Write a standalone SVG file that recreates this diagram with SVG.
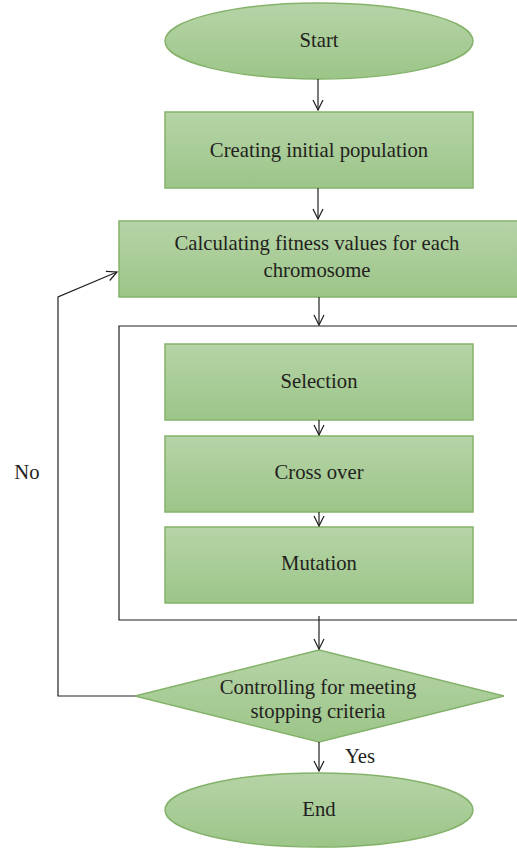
<svg xmlns="http://www.w3.org/2000/svg" width="517" height="848" viewBox="0 0 517 848">
<style>
.n{fill:url(#g);stroke:#84b26a;stroke-width:1.5}
.t{font-family:"Liberation Serif",serif;font-size:20.7px;fill:#231f20;text-anchor:middle}
.c{fill:none;stroke:#231f20;stroke-width:1.2}
</style>
<defs>
<linearGradient id="g" x1="0" y1="0" x2="0" y2="1">
<stop offset="0" stop-color="#b6d4a7"/>
<stop offset="1" stop-color="#9cc588"/>
</linearGradient>
<marker id="a" viewBox="0 0 12 12" refX="11" refY="6" markerWidth="12" markerHeight="12" markerUnits="userSpaceOnUse" orient="auto">
<path d="M1,1 L11,6 L1,11" fill="none" stroke="#231f20" stroke-width="1.2"/>
</marker>
</defs>
<rect x="0" y="0" width="517" height="848" fill="#fff"/>
<g id="container"><path class="c" d="M520,326 H119 V620 H520"/></g>
<g id="start"><ellipse class="n" cx="319" cy="41" rx="154" ry="38"/><text class="t" x="319" y="47">Start</text></g>
<g id="init"><rect class="n" x="165" y="112" width="308" height="76"/><text class="t" x="319" y="157">Creating initial population</text></g>
<g id="fitness"><rect class="n" x="119" y="221" width="400" height="76"/><text class="t" x="317" y="250">Calculating fitness values for each</text><text class="t" x="317" y="277">chromosome</text></g>
<g id="selection"><rect class="n" x="165" y="344" width="308" height="76"/><text class="t" x="319" y="388">Selection</text></g>
<g id="crossover"><rect class="n" x="165" y="436" width="308" height="76"/><text class="t" x="319" y="479">Cross over</text></g>
<g id="mutation"><rect class="n" x="165" y="527" width="308" height="76"/><text class="t" x="319" y="570">Mutation</text></g>
<g id="decision"><polygon class="n" points="319,650 504,696 319,742 135,696"/><text class="t" x="318" y="694">Controlling for meeting</text><text class="t" x="318" y="718">stopping criteria</text></g>
<g id="end"><ellipse class="n" cx="319" cy="810" rx="154" ry="37"/><text class="t" x="319" y="816">End</text></g>
<g id="connectors">
<line class="c" x1="318" y1="79" x2="318" y2="110" marker-end="url(#a)"/>
<line class="c" x1="318" y1="188" x2="318" y2="219" marker-end="url(#a)"/>
<line class="c" x1="319" y1="297" x2="319" y2="325" marker-end="url(#a)"/>
<line class="c" x1="319" y1="420" x2="319" y2="435" marker-end="url(#a)"/>
<line class="c" x1="319" y1="512" x2="319" y2="526" marker-end="url(#a)"/>
<line class="c" x1="319" y1="616" x2="319" y2="649" marker-end="url(#a)"/>
<line class="c" x1="319" y1="742" x2="319" y2="771" marker-end="url(#a)"/>
<path class="c" d="M135,696 H58 V297 L117,272" marker-end="url(#a)"/>
<text class="t" x="27" y="479">No</text>
<text class="t" x="360" y="763">Yes</text>
</g>
</svg>
